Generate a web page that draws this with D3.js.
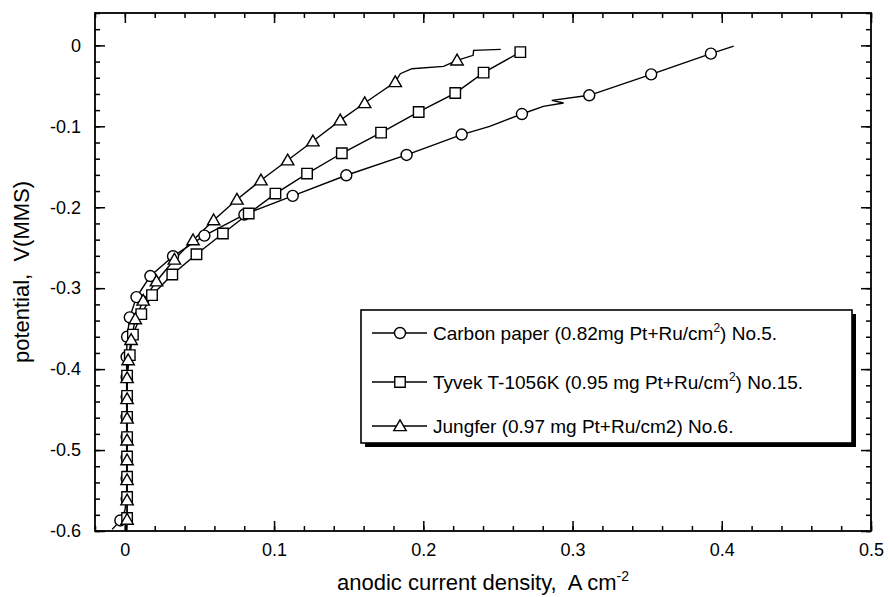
<!DOCTYPE html>
<html>
<head>
<meta charset="utf-8">
<script src="https://cdn.jsdelivr.net/npm/d3@7"></script>
<style>
  body { margin: 0; background: #fff; }
  svg { font-family: "Liberation Sans", Arial, sans-serif; }
  .tick text { font-size: 18px; fill: #000; }
  .title { white-space: pre; }
</style>
</head>
<body>
<div id="chart"></div>
<script>
// series: [current density A/cm2, potential V]
var carbonLine = [
  [-0.0085, -0.598], [-0.003, -0.587], [0.0, -0.575], [0.0012, -0.56], [0.0012, -0.535],
  [0.0012, -0.509], [0.0012, -0.484], [0.0012, -0.459], [0.0012, -0.434], [0.0012, -0.41],
  [0.0012, -0.385], [0.0015, -0.36], [0.0033, -0.336], [0.0078, -0.311], [0.0171, -0.285],
  [0.0323, -0.2605], [0.0533, -0.235], [0.0801, -0.209], [0.1125, -0.186], [0.1484, -0.1605],
  [0.1888, -0.1354], [0.2257, -0.1102], [0.2445, -0.1], [0.2661, -0.0848], [0.2804, -0.0753],
  [0.294, -0.0712], [0.2861, -0.0679], [0.3112, -0.0617], [0.3527, -0.0358], [0.3927, -0.0102],
  [0.408, -0.001]
];
var carbonMarks = [
  [-0.003, -0.587], [0.0012, -0.56], [0.0012, -0.535], [0.0012, -0.509], [0.0012, -0.484],
  [0.0012, -0.459], [0.0012, -0.434], [0.0012, -0.41], [0.0012, -0.385], [0.0015, -0.36],
  [0.0033, -0.336], [0.0078, -0.311], [0.0171, -0.285], [0.0323, -0.2605], [0.0533, -0.235],
  [0.0801, -0.209], [0.1125, -0.186], [0.1484, -0.1605], [0.1888, -0.1354], [0.2257, -0.1102],
  [0.2661, -0.0848], [0.3112, -0.0617], [0.3527, -0.0358], [0.3927, -0.0102]
];

var tyvekLine = [
  [0.0012, -0.6], [0.0015, -0.584], [0.0015, -0.558], [0.0015, -0.533], [0.0015, -0.508],
  [0.0015, -0.484], [0.0015, -0.459], [0.0015, -0.433], [0.0015, -0.408], [0.0033, -0.3827],
  [0.0054, -0.3574], [0.011, -0.332], [0.0182, -0.3086], [0.0318, -0.2831], [0.048, -0.258],
  [0.0657, -0.2325], [0.083, -0.2078], [0.1009, -0.1831], [0.1221, -0.1584], [0.1454, -0.1333],
  [0.1717, -0.1078], [0.1969, -0.0823], [0.2214, -0.0589], [0.2404, -0.0337], [0.265, -0.0083]
];
var tyvekMarks = tyvekLine.slice(1);

var jungferLine = [
  [0.0012, -0.6], [0.0015, -0.586], [0.0015, -0.562], [0.0015, -0.537], [0.0015, -0.5125],
  [0.0015, -0.488], [0.0015, -0.461], [0.0015, -0.437], [0.0015, -0.411], [0.0022, -0.3889],
  [0.0042, -0.3638], [0.007, -0.3383], [0.0123, -0.3152], [0.0212, -0.2914], [0.0332, -0.2646],
  [0.0457, -0.2407], [0.0595, -0.216], [0.0751, -0.1905], [0.0912, -0.1667], [0.1091, -0.142],
  [0.126, -0.1185], [0.1443, -0.0926], [0.1607, -0.0712], [0.1812, -0.0453], [0.1846, -0.035],
  [0.1924, -0.0288], [0.2136, -0.026], [0.2226, -0.0185], [0.2334, -0.0123], [0.2337, -0.0062],
  [0.2519, -0.0049]
];
var jungferMarks = [
  [0.0015, -0.586], [0.0015, -0.562], [0.0015, -0.537], [0.0015, -0.5125], [0.0015, -0.488],
  [0.0015, -0.461], [0.0015, -0.437], [0.0015, -0.411], [0.0022, -0.3889], [0.0042, -0.3638],
  [0.007, -0.3383], [0.0123, -0.3152], [0.0212, -0.2914], [0.0332, -0.2646], [0.0457, -0.2407],
  [0.0595, -0.216], [0.0751, -0.1905], [0.0912, -0.1667], [0.1091, -0.142], [0.126, -0.1185],
  [0.1443, -0.0926], [0.1607, -0.0712], [0.1812, -0.0453], [0.2226, -0.0185]
];

var legendLabels = [
  ["Carbon paper (0.82mg Pt+Ru/cm", "2", ") No.5."],
  ["Tyvek T-1056K (0.95 mg Pt+Ru/cm", "2", ") No.15."],
  ["Jungfer (0.97 mg Pt+Ru/cm2) No.6.", "", ""]
];
var xTicks = [0, 0.1, 0.2, 0.3, 0.4, 0.5];
var yTicks = [0, -0.1, -0.2, -0.3, -0.4, -0.5, -0.6];

var width = 890, height = 597;
var margin = {top: 13, right: 19, bottom: 66, left: 95};

var svg = d3.select("#chart").append("svg")
  .attr("width", width).attr("height", height);

var x = d3.scaleLinear().domain([-0.02, 0.5]).range([margin.left, width - margin.right]);
var y = d3.scaleLinear().domain([-0.6, 0.04]).range([height - margin.bottom, margin.top]);

var xMinor = d3.range(-1, 26).map(function(i) { return +(i * 0.02).toFixed(2); });
var yMinor = d3.range(-30, 3).map(function(i) { return +(i * 0.02).toFixed(2); });

var fmt = function(d) { return d === 0 ? "0" : d3.format("")(+d.toFixed(1)).replace("−", "-"); };

// major + minor ticks on all four sides, pointing inward
function drawAxis(axisFn, scale, pos, majors, minors, labels) {
  var g = svg.append("g").attr("transform", pos);
  g.call(axisFn(scale).tickValues(minors).tickSize(-5).tickFormat(""));
  g.select(".domain").remove();
  var m = svg.append("g").attr("transform", pos);
  m.call(axisFn(scale).tickValues(majors).tickSize(-10).tickPadding(12)
    .tickFormat(labels ? fmt : ""));
  m.select(".domain").remove();
  svg.selectAll(".tick line").attr("stroke", "#000").attr("stroke-width", 1.5);
  return m;
}
drawAxis(d3.axisBottom, x, "translate(0," + y(-0.6) + ")", xTicks, xMinor, true);
drawAxis(d3.axisTop, x, "translate(0," + y(0.04) + ")", xTicks, xMinor, false);
var yl = drawAxis(d3.axisLeft, y, "translate(" + x(-0.02) + ",0)", yTicks, yMinor, true);
drawAxis(d3.axisRight, y, "translate(" + x(0.5) + ",0)", yTicks, yMinor, false);
yl.selectAll("text").attr("x", -14);

svg.append("rect")
  .attr("x", x(-0.02)).attr("y", y(0.04))
  .attr("width", x(0.5) - x(-0.02)).attr("height", y(-0.6) - y(0.04))
  .attr("fill", "none").attr("stroke", "#000").attr("stroke-width", 1.8);

// axis titles
var xt = svg.append("text").attr("class", "title")
  .attr("x", (x(-0.02) + x(0.5)) / 2).attr("y", 590)
  .attr("text-anchor", "middle").attr("font-size", 22);
xt.append("tspan").text("anodic current density,  A cm");
xt.append("tspan").attr("dy", -9).attr("font-size", 14).text("-2");

svg.append("text").attr("class", "title")
  .attr("transform", "translate(29," + (y(-0.6) + y(0.04)) / 2 + ") rotate(-90)")
  .attr("text-anchor", "middle").attr("font-size", 22)
  .text("potential,  V(MMS)");

// curves
var line = d3.line().x(function(d) { return x(d[0]); }).y(function(d) { return y(d[1]); });
var series = [
  {line: carbonLine, marks: carbonMarks, shape: "circle"},
  {line: tyvekLine, marks: tyvekMarks, shape: "square"},
  {line: jungferLine, marks: jungferMarks, shape: "triangle"}
];

function markPath(shape) {
  if (shape === "circle") return d3.symbol(d3.symbolCircle, 95)();
  if (shape === "square") return d3.symbol(d3.symbolSquare, 110)();
  return "M0,-6.2L6.2,4.6L-6.2,4.6Z";
}

series.forEach(function(s) {
  svg.append("path").datum(s.line)
    .attr("d", line).attr("fill", "none")
    .attr("stroke", "#000").attr("stroke-width", 1.4);
});
series.forEach(function(s) {
  svg.append("g").selectAll("path").data(s.marks).enter().append("path")
    .attr("d", markPath(s.shape))
    .attr("transform", function(d) { return "translate(" + x(d[0]) + "," + y(d[1]) + ")"; })
    .attr("fill", "#fff").attr("stroke", "#000").attr("stroke-width", 1.4);
});

// legend
var lg = svg.append("g");
var lx = 361, ly = 310, lw = 491, lh = 133;
lg.append("rect").attr("x", lx + 4).attr("y", ly + 4).attr("width", lw).attr("height", lh).attr("fill", "#000");
lg.append("rect").attr("x", lx).attr("y", ly).attr("width", lw).attr("height", lh)
  .attr("fill", "#fff").attr("stroke", "#000").attr("stroke-width", 1.6);

var rowsY = [333, 382, 426];
series.forEach(function(s, i) {
  var ry = rowsY[i];
  lg.append("line").attr("x1", 372).attr("x2", 427).attr("y1", ry).attr("y2", ry)
    .attr("stroke", "#000").attr("stroke-width", 1.4);
  lg.append("path").attr("d", markPath(s.shape))
    .attr("transform", "translate(400," + ry + ")")
    .attr("fill", "#fff").attr("stroke", "#000").attr("stroke-width", 1.4);
  var t = lg.append("text").attr("x", 433).attr("y", ry + 7).attr("font-size", 19);
  t.append("tspan").text(legendLabels[i][0]);
  if (legendLabels[i][1]) {
    t.append("tspan").attr("dy", -8).attr("font-size", 12).text(legendLabels[i][1]);
    t.append("tspan").attr("dy", 8).text(legendLabels[i][2]);
  }
});
</script>
</body>
</html>
